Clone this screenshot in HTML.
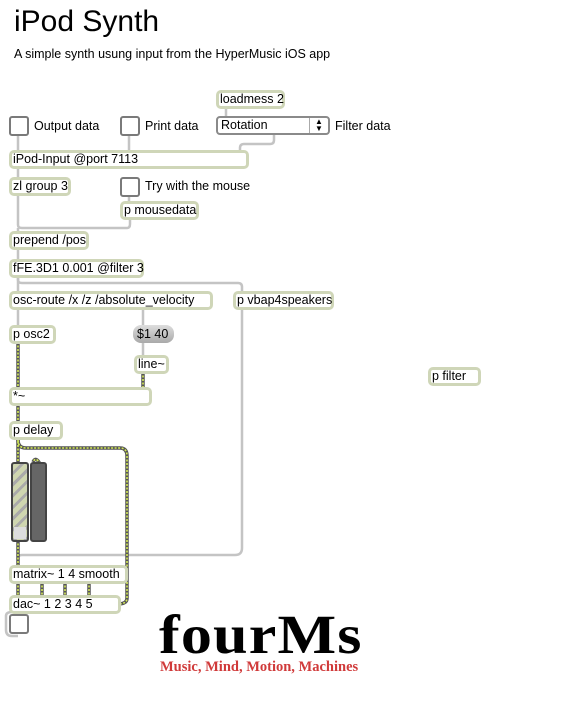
<!DOCTYPE html>
<html><head><meta charset="utf-8"><style>
body{margin:0;width:569px;height:714px;background:#fff;position:relative;overflow:hidden;font-family:"Liberation Sans",sans-serif;}
.b{position:absolute;box-sizing:border-box;border:3px solid #cfd6b8;border-radius:5px;background:#fff;font-size:12.5px;line-height:13px;padding:0 0 0 1px;color:#000;white-space:nowrap}
.t{position:absolute;box-sizing:border-box;width:20px;height:20px;border:2px solid #7a7a7a;border-radius:3px;background:#fff}
.l{position:absolute;font-size:12.5px;color:#000;white-space:nowrap}
svg{position:absolute;left:0;top:0}
</style></head><body>
<div class="l" style="left:14px;top:5px;font-size:30px;">iPod Synth</div>
<div class="l" style="left:14px;top:47px;font-size:12.5px;">A simple synth usung input from the HyperMusic iOS app</div>

<svg width="569" height="714">
<g fill="none" stroke="#c4c4c4" stroke-width="2.5">
<path d="M226 96 V118"/>
<path d="M18 134 V152"/>
<path d="M129 134 V152"/>
<path d="M274 134 V140 Q274 144 270 144 H244 Q240 144 240 148 V152"/>
<path d="M18 167 V179"/>
<path d="M129 195 V203"/>
<path d="M18 194 V225 Q18 228 22 228 H127 Q130 228 130 224 V218"/>
<path d="M18 228 V233"/>
<path d="M18 248 V261"/>
<path d="M18 276 V293"/>
<path d="M18 276 V280 Q18 283 22 283 H238 Q242 283 242 287 V293"/>
<path d="M18 308 V327"/>
<path d="M143 308 V327"/>
<path d="M143 342 V357"/>
<path d="M242 308 V548 Q242 555 235 555 H22 Q18 555 18 558 V567"/>
<path d="M12 612 Q6 612 6 616 V630 Q6 636 12 636 H18"/>
</g>
<g fill="none">
<g stroke="#555" stroke-width="3.5">
<path d="M18 342 V389"/><path d="M143 372 V389"/><path d="M18 404 V423"/>
<path d="M18 438 V464"/><path d="M18 440 Q18 448 26 448 H120 Q127 448 127 456 V598 Q127 604 118 604 H110 V597"/>
<path d="M18 540 V567"/><path d="M40 464 Q36 456 33 462"/>
<path d="M18 582 V597"/><path d="M42 582 V597"/><path d="M65 582 V597"/><path d="M89 582 V597"/>
</g>
<g stroke="#d4ea55" stroke-width="1.6" stroke-dasharray="2 1.5">
<path d="M18 342 V389"/><path d="M143 372 V389"/><path d="M18 404 V423"/>
<path d="M18 438 V464"/><path d="M18 440 Q18 448 26 448 H120 Q127 448 127 456 V598 Q127 604 118 604 H110 V597"/>
<path d="M18 540 V567"/><path d="M40 464 Q36 456 33 462"/>
<path d="M18 582 V597"/><path d="M42 582 V597"/><path d="M65 582 V597"/><path d="M89 582 V597"/>
</g>
</g>
</svg>

<div class="b" style="left:216px;top:90px;width:69px;height:19px">loadmess 2</div>
<div class="t" style="left:9px;top:116px"></div><div class="l" style="left:34px;top:119px">Output data</div>
<div class="t" style="left:120px;top:116px"></div><div class="l" style="left:145px;top:119px">Print data</div>
<div style="position:absolute;left:216px;top:116px;width:114px;height:19px;box-sizing:border-box;border:2px solid #8a8a8a;border-radius:4px;background:#fff;font-size:12.5px;line-height:15px;padding-left:3px">Rotation<span style="position:absolute;right:0;top:0;width:18px;height:15px;border-left:1px solid #aaa;font-size:8px;line-height:7px;text-align:center">▲<br>▼</span></div>
<div class="l" style="left:335px;top:119px">Filter data</div>
<div class="b" style="left:9px;top:150px;width:240px;height:19px">iPod-Input @port 7113</div>
<div class="b" style="left:9px;top:177px;width:62px;height:19px">zl group 3</div>
<div class="t" style="left:120px;top:177px"></div><div class="l" style="left:145px;top:179px">Try with the mouse</div>
<div class="b" style="left:120px;top:201px;width:79px;height:19px">p mousedata</div>
<div class="b" style="left:9px;top:231px;width:80px;height:19px">prepend /pos</div>
<div class="b" style="left:9px;top:259px;width:135px;height:19px">fFE.3D1 0.001 @filter 3</div>
<div class="b" style="left:9px;top:291px;width:204px;height:19px">osc-route /x /z /absolute_velocity</div>
<div class="b" style="left:233px;top:291px;width:101px;height:19px">p vbap4speakers</div>
<div class="b" style="left:9px;top:325px;width:47px;height:19px">p osc2</div>
<div style="position:absolute;left:133px;top:325px;width:41px;height:18px;border-radius:8px;background:linear-gradient(#ddd,#a9a9a9);font-size:12.5px;line-height:18px;padding-left:4px;box-sizing:border-box">$1 40</div>
<div class="b" style="left:134px;top:355px;width:35px;height:19px">line~</div>
<div class="b" style="left:9px;top:387px;width:143px;height:19px">*~</div>
<div class="b" style="left:9px;top:421px;width:54px;height:19px">p delay</div>
<div style="position:absolute;left:11px;top:462px;width:18px;height:80px;box-sizing:border-box;border:2px solid #444;border-radius:3px;background:repeating-linear-gradient(135deg,#cfd6b0 0 5px,#aaa 5px 8px)"><div style="position:absolute;left:1px;bottom:1px;width:12px;height:12px;background:#ddd"></div></div>
<div style="position:absolute;left:30px;top:462px;width:17px;height:80px;box-sizing:border-box;border:2px solid #444;border-radius:3px;background:#666"></div>
<div class="b" style="left:9px;top:565px;width:119px;height:19px">matrix~ 1 4 smooth</div>
<div class="b" style="left:9px;top:595px;width:112px;height:19px">dac~ 1 2 3 4 5</div>
<div class="t" style="left:9px;top:614px"></div>
<div class="b" style="left:428px;top:367px;width:53px;height:19px">p filter</div>

<div class="l" style="left:159px;top:607px;font-family:'Liberation Serif',serif;font-weight:bold;font-size:55px;line-height:55px;letter-spacing:1px;transform:scaleX(1.13);transform-origin:0 0">fourMs</div>
<div class="l" style="left:160px;top:659px;font-family:'Liberation Serif',serif;font-weight:bold;font-size:14.5px;color:#d03a3a">Music, Mind, Motion, Machines</div>
</body></html>
